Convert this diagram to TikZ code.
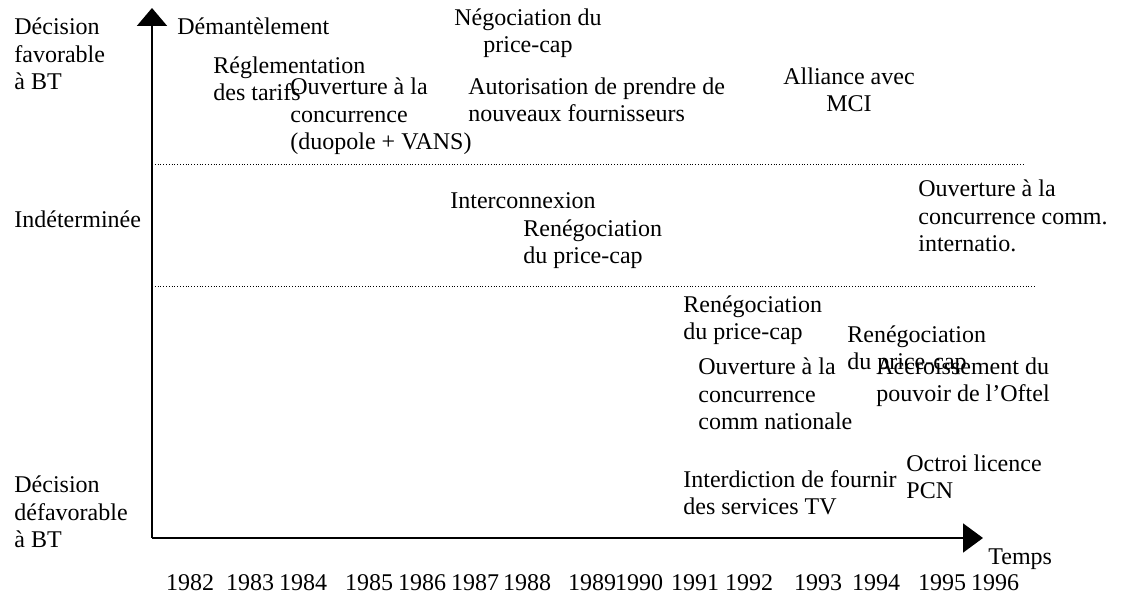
\documentclass[tikz,border=0pt]{standalone}
\usepackage{fontspec}
\setmainfont{Liberation Serif}
\usetikzlibrary{arrows.meta}

\begin{document}
\begin{tikzpicture}[x=0.5pt,y=-0.5pt,
    txt/.style={anchor=base west,inner sep=0pt,align=left,font=\fontsize{12}{13.75}\selectfont},
    txtc/.style={txt,anchor=base,align=center},
    annee/.style={anchor=base,inner sep=0pt,font=\fontsize{12}{13.75}\selectfont},
    axe/.style={line width=1pt},
    niveau/.style={line width=0.5pt,dash pattern=on 0.5pt off 0.9pt}]
    \useasboundingbox (0,0) rectangle (1126,598);

    \coordinate (O) at (152,538);
    \coordinate (haut) at (152,8);
    \coordinate (fin) at (983,538);
    \draw[axe,-{Triangle[length=9pt,width=15pt]}] (O) -- (haut);
    \draw[axe,-{Triangle[length=10pt,width=14.5pt]}] (O) -- (fin);

    \coordinate (n1a) at (152,165);
    \coordinate (n1b) at (1023,165);
    \coordinate (n2a) at (152,287);
    \coordinate (n2b) at (1035,287);
    \draw[niveau] (n1a) -- (n1b);
    \draw[niveau] (n2a) -- (n2b);

    % y = ligne de base de la derniere ligne
    \node[txt] (fav) at (14,90) {Décision\\favorable\\à BT};
    \node[txt] (indet) at (14,228) {Indéterminée};
    \node[txt] (defav) at (14,548) {Décision\\défavorable\\à BT};

    \node[txt] (demant) at (177,35) {Démantèlement};
    \node[txt] (regl) at (213,101) {Réglementation\\des tarifs};
    \node[txt] (ouvdu) at (290,150) {Ouverture à la\\concurrence\\(duopole + VANS)};
    \node[txtc] (nego) at (528,53) {Négociation du\\price-cap};
    \node[txt] (autor) at (468,122) {Autorisation de prendre de\\nouveaux fournisseurs};
    \node[txtc] (mci) at (849,112) {Alliance avec\\MCI};

    \node[txt] (interco) at (450,209) {Interconnexion};
    \node[txt] (reneg1) at (523,264) {Renégociation\\du price-cap};
    \node[txt] (ouvint) at (918,252) {Ouverture à la\\concurrence comm.\\internatio.};

    \node[txt] (reneg2) at (683,340) {Renégociation\\du price-cap};
    \node[txt] (reneg3) at (847,370) {Renégociation\\du price-cap};
    \node[txt] (ouvnat) at (698,430) {Ouverture à la\\concurrence\\comm nationale};
    \node[txt] (oftel) at (876,402) {Accroissement du\\pouvoir de l’Oftel};
    \node[txt] (tv) at (683,515) {Interdiction de fournir\\des services TV};
    \node[txt] (pcn) at (906,499) {Octroi licence\\PCN};

    \node[txt] (temps) at (988,565) {Temps};

    \node[annee] (a82) at (190,591) {1982};
    \node[annee] (a83) at (250,591) {1983};
    \node[annee] (a84) at (303,591) {1984};
    \node[annee] (a85) at (369,591) {1985};
    \node[annee] (a86) at (422,591) {1986};
    \node[annee] (a87) at (475,591) {1987};
    \node[annee] (a88) at (527,591) {1988};
    \node[annee] (a89) at (592,591) {1989};
    \node[annee] (a90) at (639,591) {1990};
    \node[annee] (a91) at (695,591) {1991};
    \node[annee] (a92) at (749,591) {1992};
    \node[annee] (a93) at (818,591) {1993};
    \node[annee] (a94) at (876,591) {1994};
    \node[annee] (a95) at (942,591) {1995};
    \node[annee] (a96) at (995,591) {1996};
\end{tikzpicture}
\end{document}
